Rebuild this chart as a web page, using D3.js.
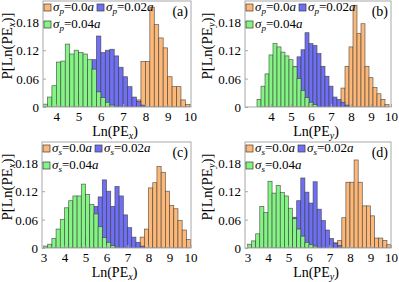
<!DOCTYPE html>
<html>
<head>
<meta charset="utf-8">
<script src="https://cdn.jsdelivr.net/npm/d3@7"></script>
<style>
  body { margin: 0; background: #fff; }
  svg { display: block; font-family: "Liberation Serif", "Times New Roman", serif; }
</style>
</head>
<body>
<svg id="chart" width="399" height="282"></svg>
<script>
const BIN_WIDTH = 0.2;

// panel (a): sigma_p, PE_x
const aOrangeStart = 7.4;
const aOrange = [0.005, 0.015, 0.096, 0.096, 0.211, 0.174, 0.146, 0.125, 0.064, 0.043, 0.043, 0.015, 0.005];
const aBlueStart = 4.6;
const aBlue = [0.005, 0.015, 0.03, 0.05, 0.08, 0.1, 0.15, 0.115, 0.12, 0.122, 0.108, 0.084, 0.064, 0.043, 0.021, 0.012, 0.004];
const aGreenStart = 3.4;
const aGreen = [0.006, 0.021, 0.045, 0.095, 0.097, 0.133, 0.112, 0.12, 0.115, 0.112, 0.1, 0.08, 0.032, 0.02, 0.01, 0.004];

// panel (b): sigma_p, PE_y
const bOrangeStart = 7.3;
const bOrange = [0.005, 0.04, 0.086, 0.127, 0.215, 0.155, 0.176, 0.086, 0.062, 0.041, 0.028, 0.016, 0.005];
const bBlueStart = 4.3;
const bBlue = [0.01, 0.025, 0.04, 0.06, 0.085, 0.106, 0.121, 0.157, 0.134, 0.13, 0.113, 0.086, 0.065, 0.044, 0.021, 0.016, 0.01, 0.004];
const bGreenStart = 3.3;
const bGreen = [0.016, 0.044, 0.07, 0.11, 0.134, 0.127, 0.116, 0.108, 0.1, 0.085, 0.06, 0.035, 0.02, 0.01, 0.005];

// panel (c): sigma_s, PE_x
const cOrangeStart = 7.4;
const cOrange = [0.005, 0.023, 0.04, 0.127, 0.138, 0.172, 0.16, 0.12, 0.09, 0.083, 0.058, 0.038, 0.018];
const cBlueStart = 4.6;
const cBlue = [0.005, 0.012, 0.025, 0.05, 0.088, 0.108, 0.144, 0.12, 0.088, 0.13, 0.11, 0.07, 0.043, 0.023, 0.012, 0.004];
const cGreenStart = 3.0;
const cGreen = [0.004, 0.008, 0.02, 0.04, 0.06, 0.085, 0.1, 0.11, 0.11, 0.135, 0.113, 0.092, 0.072, 0.045, 0.022, 0.012, 0.005];

// panel (d): sigma_s, PE_y
const dOrangeStart = 7.2;
const dOrange = [0.011, 0.016, 0.064, 0.139, 0.139, 0.186, 0.139, 0.089, 0.089, 0.068, 0.021, 0.021, 0.016, 0.007];
const dBlueStart = 4.4;
const dBlue = [0.005, 0.01, 0.02, 0.04, 0.065, 0.1, 0.148, 0.118, 0.095, 0.14, 0.082, 0.058, 0.038, 0.02, 0.01, 0.005];
const dGreenStart = 3.0;
const dGreen = [0.008, 0.015, 0.03, 0.088, 0.075, 0.141, 0.116, 0.132, 0.117, 0.11, 0.084, 0.062, 0.04, 0.025, 0.012, 0.007, 0.004];

const yTicks = [0, 0.06, 0.12, 0.18];
const yTickLabels = ["0", "0.06", "0.12", "0.18"];
const xTicksAB = [4, 5, 6, 7, 8, 9, 10];
const xTicksCD = [3, 4, 5, 6, 7, 8, 9, 10];
const legendValues = ["0.0", "0.02", "0.04"];

const COLORS = ["#fdb878", "#6f6ff4", "#84f484"];

const panels = [
	{ id: "a", ox: 0,   oy: 0,   left: 43, right: 191, xDomain: [3.4, 10.05], xTicks: xTicksAB, sub: "x", sig: "p",
	  series: [[aOrangeStart, aOrange], [aBlueStart, aBlue], [aGreenStart, aGreen]] },
	{ id: "b", ox: 200, oy: 0,   left: 45, right: 191, xDomain: [2.7, 10.0],  xTicks: xTicksAB, sub: "y", sig: "p",
	  series: [[bOrangeStart, bOrange], [bBlueStart, bBlue], [bGreenStart, bGreen]] },
	{ id: "c", ox: 0,   oy: 141, left: 42, right: 191, xDomain: [2.93, 10.02], xTicks: xTicksCD, sub: "x", sig: "s",
	  series: [[cOrangeStart, cOrange], [cBlueStart, cBlue], [cGreenStart, cGreen]] },
	{ id: "d", ox: 200, oy: 141, left: 45, right: 191, xDomain: [2.88, 10.0], xTicks: xTicksCD, sub: "y", sig: "s",
	  series: [[dOrangeStart, dOrange], [dBlueStart, dBlue], [dGreenStart, dGreen]] }
];

const TOP = 1, BOTTOM = 107;
const svg = d3.select("#chart");

panels.forEach(p => {
	const g = svg.append("g").attr("transform", `translate(${p.ox},${p.oy})`);
	const x = d3.scaleLinear().domain(p.xDomain).range([p.left, p.right]);
	const y = d3.scaleLinear().domain([0, 0.224]).range([BOTTOM, TOP]);

	g.append("clipPath").attr("id", "clip-" + p.id)
		.append("rect")
		.attr("x", p.left).attr("y", TOP)
		.attr("width", p.right - p.left).attr("height", BOTTOM - TOP);

	const plot = g.append("g").attr("clip-path", `url(#clip-${p.id})`);

	// bars: orange first, then blue, green on top
	p.series.forEach((s, i) => {
		const bins = s[1].map((v, k) => ({ x0: s[0] + k * BIN_WIDTH, v: v }));
		plot.append("g").selectAll("rect")
			.data(bins)
			.join("rect")
			.attr("x", d => x(d.x0))
			.attr("width", d => x(d.x0 + BIN_WIDTH) - x(d.x0))
			.attr("y", d => y(d.v))
			.attr("height", d => y(0) - y(d.v))
			.attr("fill", COLORS[i])
			.attr("stroke", "#3a3a3a")
			.attr("stroke-opacity", 0.8)
			.attr("stroke-width", 0.7);
	});

	// frame
	g.append("rect")
		.attr("x", p.left).attr("y", TOP)
		.attr("width", p.right - p.left).attr("height", BOTTOM - TOP)
		.attr("fill", "none").attr("stroke", "#a8a8a8").attr("stroke-width", 1);

	// axes with inward ticks
	const xAxis = g.append("g").attr("transform", `translate(0,${BOTTOM})`)
		.call(d3.axisBottom(x).tickValues(p.xTicks).tickSize(-3).tickFormat(d3.format("d")));
	const yAxis = g.append("g").attr("transform", `translate(${p.left},0)`)
		.call(d3.axisLeft(y).tickValues(yTicks).tickSize(-3).tickPadding(4).tickFormat((d, i) => yTickLabels[i]));
	[xAxis, yAxis].forEach(ax => {
		ax.select(".domain").remove();
		ax.selectAll(".tick line").attr("stroke", "#a8a8a8");
		ax.selectAll(".tick text").attr("font-family", "Liberation Serif, serif").attr("font-size", 13).attr("fill", "#000");
	});
	// baseline of x tick labels about 121
	xAxis.selectAll(".tick text").attr("y", 14).attr("dy", null);
	yAxis.selectAll(".tick text").attr("dy", "0.34em");

	// x label
	const xl = g.append("text")
		.attr("x", (p.left + p.right) / 2 - 2).attr("y", 135.5)
		.attr("text-anchor", "middle").attr("font-size", 14);
	xl.append("tspan").text("Ln(PE");
	xl.append("tspan").attr("font-style", "italic").attr("font-size", 10).attr("dy", 3).text(p.sub);
	xl.append("tspan").attr("dy", -3).text(")");

	// y label
	const yl = g.append("text")
		.attr("transform", `translate(12,${(TOP + BOTTOM) / 2 - 8}) rotate(-90)`)
		.attr("text-anchor", "middle").attr("font-size", 15);
	yl.append("tspan").text("P[Ln(PE");
	yl.append("tspan").attr("font-style", "italic").attr("font-size", 10).attr("dy", 3).text(p.sub);
	yl.append("tspan").attr("dy", -3).text(")]");

	// panel tag
	g.append("text")
		.attr("x", p.right - 3).attr("y", 16)
		.attr("text-anchor", "end").attr("font-size", 14)
		.text(`(${p.id})`);

	// legend
	const legendItem = (i, lx, ly) => {
		g.append("rect")
			.attr("x", lx).attr("y", ly - 7)
			.attr("width", 7).attr("height", 7)
			.attr("fill", COLORS[i]).attr("stroke", "#3a3a3a").attr("stroke-width", 0.7);
		const t = g.append("text").attr("x", lx + 9).attr("y", ly).attr("font-size", 13);
		t.append("tspan").attr("font-style", "italic").text("σ");
		t.append("tspan").attr("font-style", "italic").attr("font-size", 9).attr("dy", 3).text(p.sig);
		t.append("tspan").attr("dy", -3).text("=" + legendValues[i]);
		t.append("tspan").attr("font-style", "italic").text("a");
		return lx + 9 + t.node().getComputedTextLength();
	};
	const end0 = legendItem(0, p.left + 1, 11);
	legendItem(1, end0 + 3, 11);
	legendItem(2, p.left + 1, 28);
});
</script>
</body>
</html>
